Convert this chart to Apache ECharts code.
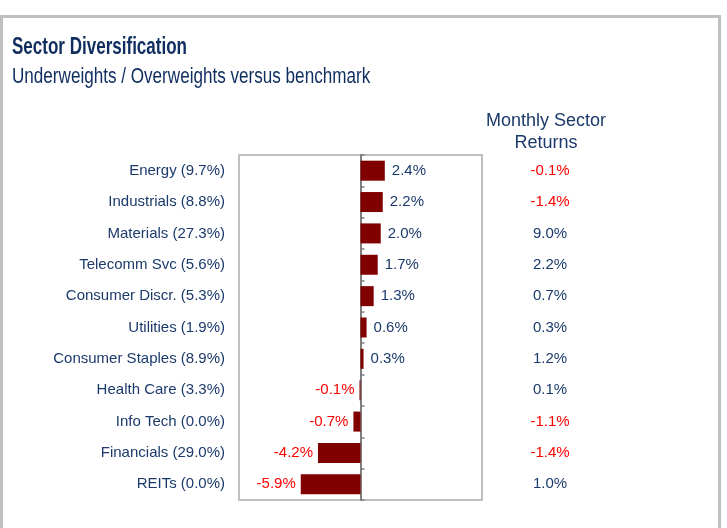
<!DOCTYPE html>
<html>
<head>
<meta charset="utf-8">
<script src="https://cdn.jsdelivr.net/npm/echarts@6/dist/echarts.min.js"></script>
<style>
  html, body { margin: 0; padding: 0; background: #fff; }
  #chart { width: 727px; height: 528px; }
</style>
</head>
<body>
<div id="chart"></div>
<script>
// sector names and portfolio weights (shown in brackets)
const sectors = ["Energy", "Industrials", "Materials", "Telecomm Svc", "Consumer Discr.",
  "Utilities", "Consumer Staples", "Health Care", "Info Tech", "Financials", "REITs"];
const weights = [9.7, 8.8, 27.3, 5.6, 5.3, 1.9, 8.9, 3.3, 0.0, 29.0, 0.0];
// under / overweight vs benchmark
const activeWeights = [2.4, 2.2, 2.0, 1.7, 1.3, 0.6, 0.3, -0.1, -0.7, -4.2, -5.9];
const monthlyReturns = [-0.1, -1.4, 9.0, 2.2, 0.7, 0.3, 1.2, 0.1, -1.1, -1.4, 1.0];

const NAVY = "#1b3a6b";
const RED = "#ff0000";
const FONT = "'Liberation Sans', Arial, sans-serif";

const chart = echarts.init(document.getElementById("chart"));

const barData = activeWeights.map((v) => ({
  value: v,
  label: {
    position: v < 0 ? "left" : "right",
    distance: v < 0 ? 5 : 7,
    color: v < 0 ? RED : NAVY,
  },
}));

const option = {
  animation: false,
  textStyle: { fontFamily: FONT },
  graphic: [
    {
      type: "rect",
      shape: { x: 1.5, y: 16.5, width: 718, height: 530 },
      style: { fill: "none", stroke: "#bfbfbf", lineWidth: 3 },
    },
    {
      // the original title is set in a condensed face
      type: "text",
      x: 12, y: 36, scaleX: 0.74,
      style: { text: "Sector Diversification", fill: "#0f2d5e", font: "bold 23px " + FONT },
    },
    {
      type: "text",
      x: 12, y: 66, scaleX: 0.777,
      style: { text: "Underweights / Overweights versus benchmark", fill: "#0f2d5e", font: "22px " + FONT },
    },
    {
      type: "text",
      x: 546, y: 110,
      style: { text: "Monthly Sector\nReturns", align: "center", fill: NAVY, font: "18px " + FONT, lineHeight: 22 },
    },
  ],
  grid: {
    left: 239,
    top: 155,
    width: 243,
    height: 345,
    show: true,
    borderColor: "#bfbfbf",
    borderWidth: 2,
    containLabel: false,
  },
  xAxis: {
    type: "value",
    min: -12,
    max: 12,
    show: false,
    splitLine: { show: false },
  },
  yAxis: [
    {
      // sector labels on the left
      type: "category",
      inverse: true,
      data: sectors,
      axisLine: { show: false, onZero: false },
      axisTick: { show: false },
      axisLabel: {
        margin: 14,
        color: NAVY,
        fontSize: 15,
        formatter: (v, i) => v + " (" + weights[i].toFixed(1) + "%)",
      },
    },
    {
      // zero line with ticks
      type: "category",
      inverse: true,
      data: sectors,
      axisLine: { show: true, onZero: true, lineStyle: { color: "#7f7f7f", width: 2 } },
      axisTick: { show: true, length: 4, lineStyle: { color: "#7f7f7f", width: 1.5 } },
      axisLabel: { show: false },
    },
    {
      // monthly return column
      type: "category",
      inverse: true,
      position: "right",
      data: sectors,
      axisLine: { show: false, onZero: false },
      axisTick: { show: false },
      axisLabel: {
        margin: 68,
        align: "center",
        fontSize: 15,
        formatter: (v, i) => {
          const r = monthlyReturns[i];
          return (r < 0 ? "{neg|" : "{pos|") + r.toFixed(1) + "%}";
        },
        rich: {
          neg: { color: RED, fontSize: 15, fontFamily: FONT },
          pos: { color: NAVY, fontSize: 15, fontFamily: FONT },
        },
      },
    },
  ],
  series: [
    {
      type: "bar",
      yAxisIndex: 0,
      data: barData,
      barWidth: 20,
      itemStyle: { color: "#800000" },
      label: {
        show: true,
        fontSize: 15,
        formatter: (p) => p.value.toFixed(1) + "%",
      },
    },
  ],
};

chart.setOption(option);
</script>
</body>
</html>
